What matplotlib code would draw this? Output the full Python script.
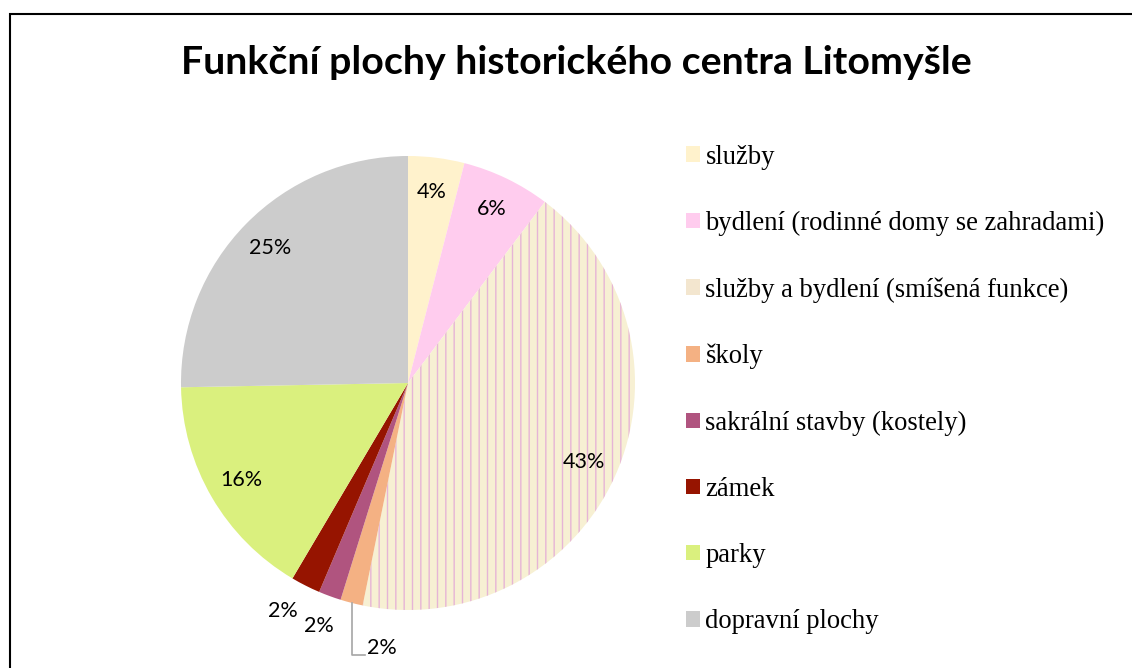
import matplotlib.pyplot as plt
from matplotlib.patches import Patch, Rectangle
import numpy as np

# data (shares of area, %)
categories = ["služby", "bydlení (rodinné domy se zahradami)",
              "služby a bydlení (smíšená funkce)", "školy",
              "sakrální stavby (kostely)", "zámek", "parky", "dopravní plochy"]
values = [4.0, 6.3, 42.9, 1.6, 1.6, 2.1, 16.2, 25.3]
colors = ["#FFF2CC", "#FFCCEE", "#F7F0D3", "#F4B183",
          "#B0547F", "#961400", "#DAF07E", "#CCCCCC"]
legend_colors = ["#FFF2CC", "#FFCCEE", "#F3E6CF", "#F4B183",
                 "#B0547F", "#961400", "#DAF07E", "#CCCCCC"]

W, H = 1132, 668
fig = plt.figure(figsize=(W / 100, H / 100), dpi=100)

# pie axes: centre (408, 383) px, radius 227 px
cx, cy, R, half = 408, 383, 227, 280
ax = fig.add_axes([(cx - half) / W, (H - cy - half) / H, 2 * half / W, 2 * half / H])
lim = half / R
plt.rcParams['hatch.linewidth'] = 1.0

wedges, texts, autotexts = ax.pie(
    values, colors=colors, startangle=90, counterclock=False,
    autopct=lambda p: f"{p:.0f}%", pctdistance=0.85,
    wedgeprops=dict(linewidth=0),
    textprops=dict(fontsize=15.5, family="Lato", color="black"))
ax.set_xlim(-lim, lim)
ax.set_ylim(-lim, lim)
ax.axis("off")

# hatched mixed-use slice
wedges[2].set_hatch("||")
wedges[2].set_edgecolor("#E6B4D6")
wedges[2].set_linewidth(0)

# small slices: labels outside
def mid_angle(w):
    return np.deg2rad((w.theta1 + w.theta2) / 2)

for i, r, da in [(5, 1.145, -2.0), (4, 1.14, 0.0)]:
    a = mid_angle(wedges[i]) + np.deg2rad(da)
    autotexts[i].set_position((r * np.cos(a), r * np.sin(a)))

a = mid_angle(wedges[3])
x0, y0 = np.cos(a), np.sin(a)
yl = -(655 - cy) / R
ax.plot([x0, x0, x0 + 0.06], [y0, yl, yl], color="#A6A6A6", lw=1.2, clip_on=False)
autotexts[3].set_position((x0 + 0.07, yl + 0.03))
autotexts[3].set_ha("left")

# legend
handles = [Patch(facecolor=c, edgecolor="none") for c in legend_colors]
fig.legend(handles, categories, loc="upper left",
           bbox_to_anchor=(675 / W, 1 - 134 / H), frameon=False,
           prop=dict(family="Liberation Serif", size=19.2),
           handlelength=0.52, handleheight=0.52, handletextpad=0.22,
           labelspacing=1.545, borderaxespad=0)

fig.text(576 / W, 1 - 62 / H, "Funkční plochy historického centra Litomyšle",
         ha="center", va="center", fontsize=28.3, fontweight="bold", family="Lato")

# chart border
fig.add_artist(Rectangle((10 / W, -0.1), 1.2, 1 - 14 / H + 0.1, transform=fig.transFigure,
                         fill=False, edgecolor="black", lw=1.5))

fig.savefig("out.png", dpi=100)
